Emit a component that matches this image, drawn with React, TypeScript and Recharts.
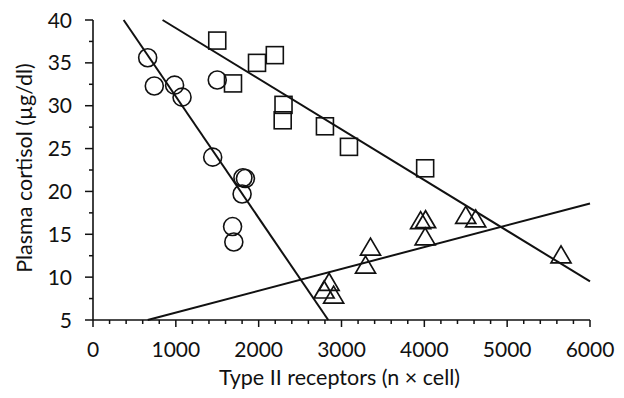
import React from "react";
import {
  ScatterChart,
  Scatter,
  XAxis,
  YAxis,
  ReferenceLine,
  Label,
} from "recharts";

// ---- data ----
const circleX = [660, 740, 985, 1075, 1500, 1445, 1810, 1840, 1800, 1685, 1700];
const circleY = [35.6, 32.3, 32.4, 31.0, 33.0, 24.0, 21.6, 21.5, 19.7, 15.9, 14.1];

const squareX = [1500, 1690, 1980, 2195, 2300, 2290, 2800, 3090, 4010];
const squareY = [37.6, 32.6, 35.0, 35.9, 30.1, 28.3, 27.6, 25.2, 22.7];

const triangleX = [2850, 2790, 2905, 3350, 3290, 3955, 4015, 4010, 4500, 4620, 5650];
const triangleY = [9.4, 8.5, 7.9, 13.5, 11.4, 16.6, 16.7, 14.7, 17.2, 16.8, 12.6];

// regression line endpoints
const circleFitX = [370, 2840];
const circleFitY = [40, 5];
const squareFitX = [840, 6000];
const squareFitY = [40, 9.5];
const triangleFitX = [660, 6000];
const triangleFitY = [5, 18.6];

// ticks
const xTicks = [0, 200, 400, 600, 800, 1000, 1200, 1400, 1600, 1800, 2000, 2200, 2400, 2600, 2800, 3000, 3200, 3400, 3600, 3800, 4000, 4200, 4400, 4600, 4800, 5000, 5200, 5400, 5600, 5800, 6000];
const xMajor = [0, 1000, 2000, 3000, 4000, 5000, 6000];
const yTicks = [5, 7.5, 10, 12.5, 15, 17.5, 20, 22.5, 25, 27.5, 30, 32.5, 35, 37.5, 40];
const yMajor = [5, 10, 15, 20, 25, 30, 35, 40];

const xTitle = "Type II receptors (n \u00d7 cell)";
const yTitle = "Plasma cortisol (\u00b5g/dl)";

const zip = (xs: number[], ys: number[]) => xs.map((x, i) => ({ x, y: ys[i] }));

const circles = zip(circleX, circleY);
const squares = zip(squareX, squareY);
const triangles = zip(triangleX, triangleY);

const FONT = "Lato, 'Open Sans', sans-serif";
const INK = "#111";

const CircleShape = (p: any) => (
  <circle cx={p.cx} cy={p.cy} r={9} fill="none" stroke={INK} strokeWidth={1.6} />
);
const SquareShape = (p: any) => (
  <rect x={p.cx - 8.5} y={p.cy - 8.5} width={17} height={17} fill="none" stroke={INK} strokeWidth={1.6} />
);
const TriangleShape = (p: any) => (
  <polygon
    points={`${p.cx},${p.cy - 9} ${p.cx - 10},${p.cy + 8} ${p.cx + 10},${p.cy + 8}`}
    fill="none"
    stroke={INK}
    strokeWidth={1.7}
    strokeLinejoin="miter"
  />
);

const XTick = (p: any) => {
  const v = p.payload.value;
  const major = xMajor.includes(v);
  return (
    <g>
      <line x1={p.x} y1={p.y} x2={p.x} y2={p.y + (major ? 7 : 4)} stroke={INK} strokeWidth={1.5} />
      {major && (
        <text x={p.x} y={p.y + 37} textAnchor="middle" fontSize={21} fontFamily={FONT} fill={INK}>
          {v}
        </text>
      )}
    </g>
  );
};

const YTick = (p: any) => {
  const v = p.payload.value;
  const major = yMajor.includes(v);
  return (
    <g>
      <line x1={p.x} y1={p.y} x2={p.x - (major ? 8 : 4)} y2={p.y} stroke={INK} strokeWidth={1.5} />
      {major && (
        <text x={p.x - 21} y={p.y + 7.5} textAnchor="end" fontSize={21} fontFamily={FONT} fill={INK}>
          {v}
        </text>
      )}
    </g>
  );
};

const XTitle = (p: any) => {
  const vb = p.viewBox || { x: 85, y: 312, width: 497, height: 60 };
  return (
    <text x={vb.x + vb.width / 2 - 2} y={vb.y + 65} textAnchor="middle" fontSize={21.5} fontFamily={FONT} fill={INK}>
      {xTitle}
    </text>
  );
};

const YTitle = (p: any) => {
  const vb = p.viewBox || { x: 0, y: 12, width: 85, height: 300 };
  const cx = vb.x + 24;
  const cy = vb.y + vb.height / 2 - 2;
  return (
    <text
      x={cx}
      y={cy}
      transform={`rotate(-90, ${cx}, ${cy})`}
      textAnchor="middle"
      fontSize={21.5}
      fontFamily={FONT}
      fill={INK}
    >
      {yTitle}
    </text>
  );
};

export default function App() {
  return (
    <ScatterChart
      width={616}
      height={390}
      margin={{ top: 12, right: 34, bottom: 18, left: 0 }}
      style={{ background: "#fff" }}
    >
      <XAxis
        type="number"
        dataKey="x"
        domain={[0, 6000]}
        ticks={xTicks}
        interval={0}
        tickSize={0}
        tickMargin={0}
        tickLine={false}
        tick={<XTick />}
        axisLine={{ stroke: INK, strokeWidth: 1.6 }}
        height={60}
      >
        <Label content={<XTitle />} />
      </XAxis>
      <YAxis
        type="number"
        dataKey="y"
        domain={[5, 40]}
        ticks={yTicks}
        interval={0}
        tickSize={0}
        tickMargin={0}
        tickLine={false}
        tick={<YTick />}
        axisLine={{ stroke: INK, strokeWidth: 1.6 }}
        width={85}
      >
        <Label content={<YTitle />} />
      </YAxis>
      <ReferenceLine
        segment={zip(circleFitX, circleFitY)}
        stroke={INK}
        strokeWidth={2}
      />
      <ReferenceLine
        segment={zip(squareFitX, squareFitY)}
        stroke={INK}
        strokeWidth={2}
      />
      <ReferenceLine
        segment={zip(triangleFitX, triangleFitY)}
        stroke={INK}
        strokeWidth={2}
      />
      <Scatter data={circles} shape={CircleShape} isAnimationActive={false} />
      <Scatter data={squares} shape={SquareShape} isAnimationActive={false} />
      <Scatter data={triangles} shape={TriangleShape} isAnimationActive={false} />
    </ScatterChart>
  );
}
